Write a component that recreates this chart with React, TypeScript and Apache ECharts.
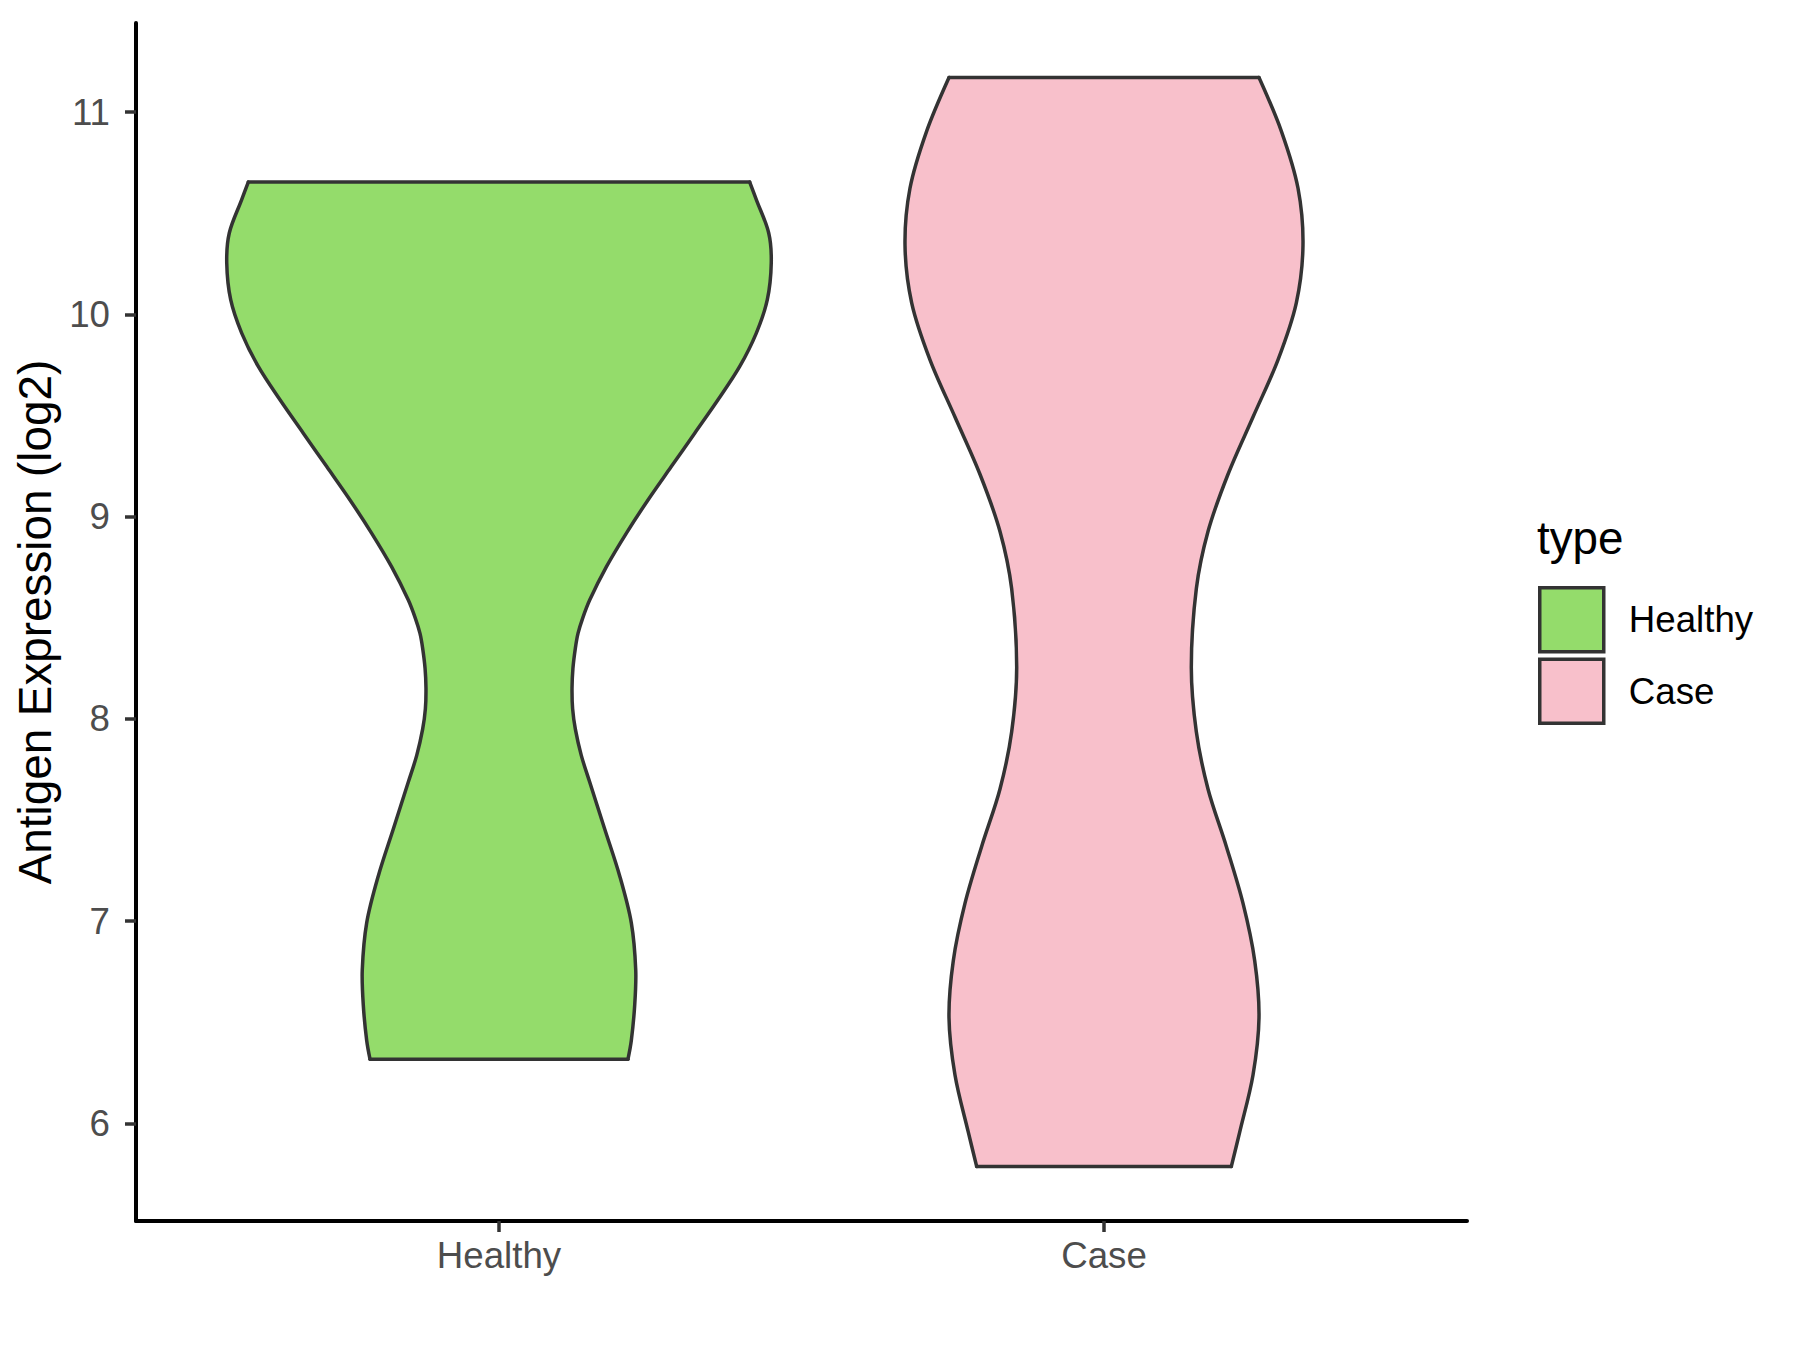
import React, { useEffect, useRef } from "react";
import * as echarts from "echarts";

// Categories and colours
const categories = ["Healthy", "Case"];
const fills = ["#94DC6B", "#F8C0CB"];

// Violin outline profiles: expression values (log2) and half-widths (in category units)
const healthyValues = [10.655, 10.568, 10.403, 10.254, 10.073, 9.908, 9.743, 9.578, 9.413, 9.248, 9.083, 8.918, 8.752, 8.588, 8.5, 8.423, 8.35, 8.25, 8.152, 8.05, 7.95, 7.82, 7.688, 7.456, 7.224, 6.992, 6.759, 6.585, 6.41, 6.318];
const healthyHalfWidth = [0.4144, 0.4253, 0.4458, 0.45, 0.4435, 0.4253, 0.3979, 0.362, 0.3235, 0.2848, 0.2463, 0.2104, 0.1774, 0.1499, 0.1385, 0.1306, 0.1262, 0.1222, 0.1207, 0.1217, 0.1262, 0.136, 0.1499, 0.1747, 0.1995, 0.2187, 0.226, 0.2243, 0.2187, 0.2132];

const caseValues = [11.172, 10.907, 10.624, 10.342, 10.058, 9.776, 9.493, 9.21, 8.927, 8.644, 8.256, 7.937, 7.654, 7.371, 7.088, 6.805, 6.523, 6.24, 5.957, 5.787];
const caseHalfWidth = [0.2562, 0.2931, 0.3207, 0.3289, 0.3179, 0.2876, 0.2463, 0.205, 0.1719, 0.1526, 0.1443, 0.1526, 0.1719, 0.2021, 0.2298, 0.2491, 0.2562, 0.2463, 0.2243, 0.2104];

// Axis ticks
const yTicks = [6, 7, 8, 9, 10, 11];
const xTicks = [1, 2];

const FONT = "'Liberation Sans', Arial, Helvetica, sans-serif";

function makeViolin(name: string, idx: number, values: number[], hw: number[], fill: string) {
  return {
    type: "custom",
    name,
    itemStyle: { color: fill, borderColor: "#333333", borderWidth: 3.5 },
    data: [[idx + 1]],
    renderItem: (params: any, api: any) => {
      const c = api.value(0);
      const left = values.map((v, i) => api.coord([c - hw[i], v]));
      const right = values.map((v, i) => api.coord([c + hw[i], v])).reverse();
      const n = left.length;
      const stroke = { stroke: "#333333", lineWidth: 3.5, fill: "none", lineCap: "round", lineJoin: "round" };
      return {
        type: "group",
        children: [
          { type: "polygon", shape: { points: [...left, ...right] }, style: { fill, stroke: fill, lineWidth: 1 } },
          { type: "polyline", shape: { points: left, smooth: 0.33 }, style: stroke },
          { type: "polyline", shape: { points: right, smooth: 0.33 }, style: stroke },
          { type: "line", shape: { x1: left[0][0], y1: left[0][1], x2: right[n - 1][0], y2: right[n - 1][1] }, style: stroke },
          { type: "line", shape: { x1: left[n - 1][0], y1: left[n - 1][1], x2: right[0][0], y2: right[0][1] }, style: stroke },
        ],
      };
    },
  };
}

export default function App() {
  const ref = useRef<HTMLDivElement>(null);
  useEffect(() => {
    if (!ref.current) return;
    const chart = echarts.init(ref.current, undefined, { renderer: "svg" });
    const all = [...healthyValues, ...caseValues];
    const lo = Math.min(...all);
    const hi = Math.max(...all);
    const pad = (hi - lo) * 0.05;
    chart.setOption({
      animation: false,
      backgroundColor: "#ffffff",
      grid: { left: 136, right: 333, top: 23, bottom: 129, containLabel: false },
      xAxis: {
        type: "value",
        min: 0.4,
        max: 2.6,
        splitLine: { show: false },
        axisLine: { show: true, onZero: false, lineStyle: { color: "#000000", width: 4 } },
        axisTick: { show: true, customValues: xTicks, length: 11, lineStyle: { color: "#333333", width: 3.5 } },
        axisLabel: {
          customValues: xTicks,
          formatter: (v: number) => categories[Math.round(v) - 1] ?? "",
          color: "#4D4D4D",
          fontSize: 36.7,
          fontFamily: FONT,
          margin: 16,
        },
      },
      yAxis: {
        type: "value",
        min: lo - pad,
        max: hi + pad,
        name: "Antigen Expression (log2)",
        nameLocation: "middle",
        nameRotate: 90,
        nameGap: 68,
        nameTextStyle: { color: "#000000", fontSize: 45.8, fontFamily: FONT },
        splitLine: { show: false },
        axisLine: { show: true, onZero: false, lineStyle: { color: "#000000", width: 4 } },
        axisTick: { show: true, customValues: yTicks, length: 11, lineStyle: { color: "#333333", width: 3.5 } },
        axisLabel: {
          customValues: yTicks,
          color: "#4D4D4D",
          fontSize: 36.7,
          fontFamily: FONT,
          margin: 26,
        },
      },
      legend: {
        orient: "vertical",
        left: 1538,
        top: 586,
        itemWidth: 64,
        itemHeight: 64,
        itemGap: 4,
        padding: 0,
        selectedMode: false,
        textStyle: { color: "#000000", fontSize: 36.7, fontFamily: FONT, padding: [0, 0, 0, 20] },
        data: categories.map((c, i) => ({
          name: c,
          icon: "rect",
          itemStyle: { color: fills[i], borderColor: "#333333", borderWidth: 3.5 },
        })),
      },
      graphic: [
        {
          type: "text",
          x: 1537,
          y: 538,
          style: { text: "type", fill: "#000000", fontSize: 45.8, fontFamily: FONT, verticalAlign: "middle", align: "left" },
        },
      ],
      series: [
        makeViolin("Healthy", 0, healthyValues, healthyHalfWidth, fills[0]),
        makeViolin("Case", 1, caseValues, caseHalfWidth, fills[1]),
      ],
    });
    return () => chart.dispose();
  }, []);
  return <div ref={ref} style={{ position: "absolute", left: 0, top: 0, width: 1800, height: 1350 }} />;
}
